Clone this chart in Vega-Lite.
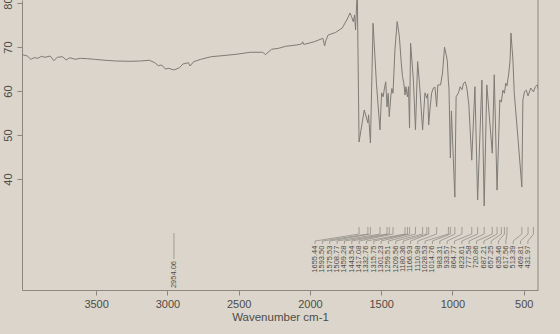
{
  "$schema": "https://vega.github.io/schema/vega-lite/v6.json",
  "width": 516,
  "height": 290,
  "autosize": {"type": "none"},
  "padding": {"left": 22, "top": 0, "right": 22, "bottom": 44},
  "background": "#dbd5cb",
  "config": {"view": {"stroke": null}, "font": "Liberation Sans"},
  "datasets": {
    "spectrum": [
      {"wn": 4020, "t": 68.3}, {"wn": 3983, "t": 67.97}, {"wn": 3958, "t": 67.22}, {"wn": 3934, "t": 67.6},
      {"wn": 3909, "t": 67.45}, {"wn": 3884, "t": 67.9}, {"wn": 3859, "t": 67.68}, {"wn": 3822, "t": 67.97},
      {"wn": 3797, "t": 66.91}, {"wn": 3772, "t": 67.68}, {"wn": 3735, "t": 67.82}, {"wn": 3710, "t": 67.06},
      {"wn": 3685, "t": 67.59}, {"wn": 3648, "t": 67.22}, {"wn": 3610, "t": 67.45}, {"wn": 3561, "t": 67.36},
      {"wn": 3511, "t": 67.22}, {"wn": 3437, "t": 67.0}, {"wn": 3362, "t": 66.84}, {"wn": 3263, "t": 66.77},
      {"wn": 3189, "t": 66.84}, {"wn": 3126, "t": 67.0}, {"wn": 3089, "t": 66.45}, {"wn": 3064, "t": 65.77},
      {"wn": 3040, "t": 65.93}, {"wn": 3014, "t": 65.02}, {"wn": 2990, "t": 65.18}, {"wn": 2954, "t": 64.79},
      {"wn": 2915, "t": 65.32}, {"wn": 2891, "t": 66.16}, {"wn": 2853, "t": 66.45}, {"wn": 2841, "t": 65.7},
      {"wn": 2816, "t": 66.68}, {"wn": 2766, "t": 67.22}, {"wn": 2692, "t": 67.82}, {"wn": 2617, "t": 68.04},
      {"wn": 2518, "t": 68.36}, {"wn": 2418, "t": 68.82}, {"wn": 2332, "t": 68.82}, {"wn": 2312, "t": 68.3},
      {"wn": 2269, "t": 69.5}, {"wn": 2220, "t": 69.72}, {"wn": 2170, "t": 70.18}, {"wn": 2096, "t": 70.47},
      {"wn": 2058, "t": 70.7}, {"wn": 2051, "t": 71.2}, {"wn": 2043, "t": 70.6}, {"wn": 1971, "t": 71.2},
      {"wn": 1909, "t": 72.0}, {"wn": 1897, "t": 70.25}, {"wn": 1887, "t": 71.6}, {"wn": 1872, "t": 72.75},
      {"wn": 1822, "t": 73.3}, {"wn": 1773, "t": 74.34}, {"wn": 1738, "t": 76.38}, {"wn": 1719, "t": 77.75},
      {"wn": 1708, "t": 76.9}, {"wn": 1696, "t": 75.77}, {"wn": 1687, "t": 77.3}, {"wn": 1680, "t": 73.9},
      {"wn": 1668, "t": 83}, {"wn": 1655.44, "t": 48.43}, {"wn": 1619, "t": 55.7}, {"wn": 1593.5, "t": 52.75},
      {"wn": 1588.6, "t": 54.6}, {"wn": 1575.53, "t": 48.2}, {"wn": 1557.2, "t": 75.4}, {"wn": 1533.5, "t": 61.8},
      {"wn": 1508.77, "t": 51.2}, {"wn": 1497.2, "t": 59.6}, {"wn": 1486.4, "t": 58.7}, {"wn": 1476.9, "t": 60.7},
      {"wn": 1468.1, "t": 62.1}, {"wn": 1459.28, "t": 56.4}, {"wn": 1451, "t": 59.5}, {"wn": 1443.54, "t": 54.2},
      {"wn": 1432, "t": 59.0}, {"wn": 1425, "t": 60.6}, {"wn": 1417.08, "t": 59.5}, {"wn": 1403.8, "t": 69.3},
      {"wn": 1387.9, "t": 75.8}, {"wn": 1372.6, "t": 72.4}, {"wn": 1359.3, "t": 66.4}, {"wn": 1350.7, "t": 63.3},
      {"wn": 1341.4, "t": 61.8}, {"wn": 1332.76, "t": 59.1}, {"wn": 1326.5, "t": 61.0}, {"wn": 1315.75, "t": 58.7},
      {"wn": 1308.5, "t": 61.0}, {"wn": 1301.23, "t": 51.6}, {"wn": 1293.9, "t": 70.9}, {"wn": 1274.1, "t": 62.5},
      {"wn": 1259.51, "t": 51.2}, {"wn": 1244.6, "t": 66.7}, {"wn": 1231.6, "t": 61.8}, {"wn": 1209.56, "t": 51.2},
      {"wn": 1193.1, "t": 59.6}, {"wn": 1180.36, "t": 58.4}, {"wn": 1173.6, "t": 59.4}, {"wn": 1166.93, "t": 52.3},
      {"wn": 1156.4, "t": 56.4}, {"wn": 1145.9, "t": 59.6}, {"wn": 1134, "t": 60.7}, {"wn": 1122.8, "t": 60.9},
      {"wn": 1110.98, "t": 56.45}, {"wn": 1102.7, "t": 61.4}, {"wn": 1083.8, "t": 61.4}, {"wn": 1069.8, "t": 64.1},
      {"wn": 1055.8, "t": 70.0}, {"wn": 1036.9, "t": 67.1}, {"wn": 1028.53, "t": 62.1}, {"wn": 1024.6, "t": 60.7},
      {"wn": 1014.76, "t": 44.8}, {"wn": 1007.4, "t": 55.5}, {"wn": 983.31, "t": 35.9}, {"wn": 974.4, "t": 58.7},
      {"wn": 958.1, "t": 59.6}, {"wn": 946.2, "t": 61.0}, {"wn": 933.57, "t": 60.3}, {"wn": 921.9, "t": 61.8},
      {"wn": 910.9, "t": 62.1}, {"wn": 899.2, "t": 60.7}, {"wn": 885.4, "t": 57.0}, {"wn": 864.77, "t": 44.3},
      {"wn": 842.5, "t": 61.0}, {"wn": 823.61, "t": 35.25}, {"wn": 793.7, "t": 62.5}, {"wn": 777.58, "t": 33.9},
      {"wn": 759.1, "t": 61.4}, {"wn": 720.86, "t": 45.9}, {"wn": 707, "t": 63.7}, {"wn": 687.21, "t": 37.5},
      {"wn": 667.7, "t": 58.0}, {"wn": 657.25, "t": 57.5}, {"wn": 646.4, "t": 60.2}, {"wn": 635.46, "t": 59.5},
      {"wn": 626.2, "t": 61.8}, {"wn": 617.56, "t": 61.2}, {"wn": 604.8, "t": 64.1}, {"wn": 595.6, "t": 67.1},
      {"wn": 589.8, "t": 73.2}, {"wn": 575.9, "t": 67.1}, {"wn": 566.7, "t": 59.6}, {"wn": 539.5, "t": 48.9},
      {"wn": 513.39, "t": 38.2}, {"wn": 505.9, "t": 58.0}, {"wn": 494.6, "t": 59.9}, {"wn": 481.8, "t": 60.2},
      {"wn": 469.81, "t": 58.9}, {"wn": 450.9, "t": 60.7}, {"wn": 431.97, "t": 59.8}, {"wn": 419, "t": 61.0},
      {"wn": 405, "t": 61.4}, {"wn": 400, "t": 60.5}
    ],
    "peaks": [
      {"wn": 2954.06}, {"wn": 1655.44}, {"wn": 1593.50}, {"wn": 1575.53}, {"wn": 1508.77}, {"wn": 1459.28},
      {"wn": 1443.54}, {"wn": 1417.08}, {"wn": 1332.76}, {"wn": 1315.75}, {"wn": 1301.23}, {"wn": 1259.51},
      {"wn": 1209.56}, {"wn": 1180.36}, {"wn": 1166.93}, {"wn": 1110.98}, {"wn": 1028.53}, {"wn": 1014.76},
      {"wn": 983.31}, {"wn": 933.57}, {"wn": 864.77}, {"wn": 823.61}, {"wn": 777.58}, {"wn": 720.86},
      {"wn": 687.21}, {"wn": 657.25}, {"wn": 635.46}, {"wn": 617.56}, {"wn": 513.39}, {"wn": 469.81},
      {"wn": 431.97}
    ]
  },
  "layer": [
    {
      "data": {"name": "spectrum"},
      "mark": {"type": "line", "clip": true, "color": "#7f7b76", "strokeWidth": 1},
      "encoding": {
        "x": {
          "field": "wn", "type": "quantitative",
          "scale": {"domain": [400, 4020], "reverse": true, "nice": false, "zero": false},
          "axis": {
            "values": [3500, 3000, 2500, 2000, 1500, 1000, 500], "format": "d",
            "title": "Wavenumber cm-1", "titleFontWeight": "normal", "titleFontSize": 11.5,
            "titleColor": "#4f4c48", "titlePadding": 2, "labelFontSize": 11, "labelColor": "#4f4c48",
            "labelPadding": 3, "tickSize": 5, "grid": false,
            "domainColor": "#8a8680", "tickColor": "#8a8680"
          }
        },
        "y": {
          "field": "t", "type": "quantitative",
          "scale": {"domain": [14.8, 80.7], "nice": false, "zero": false},
          "axis": {
            "values": [40, 50, 60, 70, 80], "title": null, "labelAngle": 270,
            "labelAlign": "center", "labelBaseline": "bottom", "labelFontSize": 11,
            "labelColor": "#4f4c48", "labelPadding": 4, "tickSize": 5, "grid": false,
            "domainColor": "#8a8680", "tickColor": "#8a8680"
          }
        }
      }
    },
    {
      "data": {"values": [{}]},
      "mark": {"type": "rule", "color": "#8a8680", "strokeWidth": 1},
      "encoding": {"x": {"datum": 400}}
    },
    {
      "data": {"name": "peaks"},
      "transform": [
        {"filter": "datum.wn < 2000"},
        {"window": [{"op": "row_number", "as": "i"}], "sort": [{"field": "wn", "order": "descending"}]},
        {"calculate": "2015.5 - 51.48 * datum.i", "as": "lx"}
      ],
      "layer": [
        {
          "mark": {"type": "rule", "color": "#8a8680", "strokeWidth": 0.7},
          "encoding": {"x": {"field": "lx", "type": "quantitative"}, "y": {"datum": 25.25}, "y2": {"datum": 25.93}}
        },
        {
          "mark": {"type": "rule", "color": "#8a8680", "strokeWidth": 0.7},
          "encoding": {"x": {"field": "lx", "type": "quantitative"}, "x2": {"field": "wn"}, "y": {"datum": 25.93}, "y2": {"datum": 27.52}}
        },
        {
          "mark": {"type": "rule", "color": "#8a8680", "strokeWidth": 0.7},
          "encoding": {"x": {"field": "wn", "type": "quantitative"}, "y": {"datum": 27.52}, "y2": {"datum": 29.12}}
        },
        {
          "mark": {"type": "text", "angle": 270, "align": "right", "baseline": "middle", "fontSize": 7.5, "color": "#4f4c48"},
          "encoding": {
            "x": {"field": "lx", "type": "quantitative"},
            "y": {"datum": 24.9},
            "text": {"field": "wn", "type": "quantitative", "format": ".2f"}
          }
        }
      ]
    },
    {
      "data": {"name": "peaks"},
      "transform": [{"filter": "datum.wn > 2000"}],
      "layer": [
        {
          "mark": {"type": "rule", "color": "#8a8680", "strokeWidth": 0.7},
          "encoding": {"x": {"field": "wn", "type": "quantitative"}, "y": {"datum": 21.85}, "y2": {"datum": 27.75}}
        },
        {
          "mark": {"type": "text", "angle": 270, "align": "right", "baseline": "middle", "fontSize": 7.5, "color": "#4f4c48"},
          "encoding": {
            "x": {"field": "wn", "type": "quantitative"},
            "y": {"datum": 21.4},
            "text": {"field": "wn", "type": "quantitative", "format": ".2f"}
          }
        }
      ]
    }
  ]
}
